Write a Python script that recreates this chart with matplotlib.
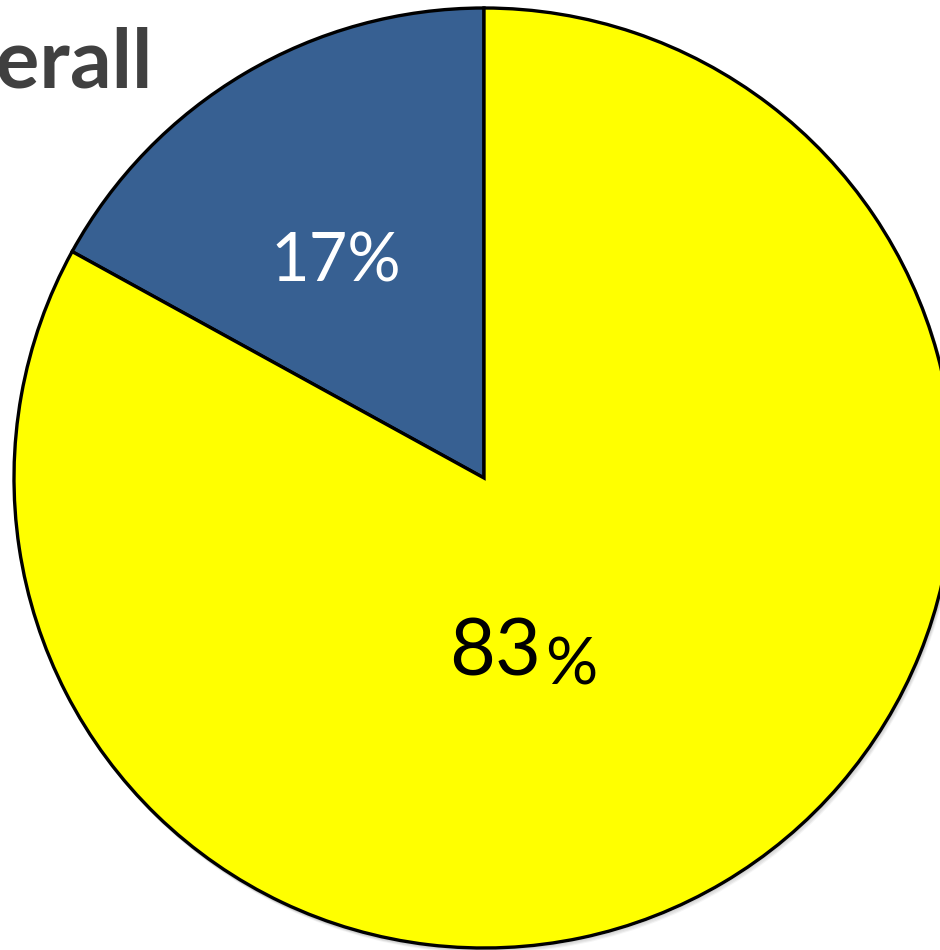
import matplotlib.pyplot as plt
from matplotlib.patches import Circle

labels = ['Yes', 'No']
shares = [17, 83]
colors = ['#376092', '#ffff00']
text_colors = ['white', 'black']
title = 'Overall'

W, H = 940, 950
CX, CY, R = 484, 478, 470  # pie centre / radius in pixels

fig = plt.figure(figsize=(W / 100, H / 100), dpi=100)
fig.patch.set_facecolor('white')

# axes box sized so that a unit-radius pie lands on the pixel circle
ax = fig.add_axes([(CX - R) / W, (H - CY - R) / H, 2 * R / W, 2 * R / H])

# soft drop shadow under the pie
for i, a in enumerate([0.10, 0.08, 0.06, 0.04]):
    off = (i + 1.5) / R
    ax.add_patch(Circle((off * 0.6, -off), 1.0, facecolor='none',
                        edgecolor='#000000', linewidth=1.5, alpha=a,
                        clip_on=False, zorder=0))

wedges, _ = ax.pie(shares, colors=colors, startangle=90, counterclock=True,
                   radius=1.0,
                   wedgeprops=dict(edgecolor='black', linewidth=2.4))
for w in wedges:
    w.set_clip_on(False)
    w.set_zorder(2)

ax.set_xlim(-1, 1)
ax.set_ylim(-1, 1)
ax.set_aspect('equal')
ax.axis('off')

# percentage labels
ax.text(-0.315, 0.419, f'{shares[0]}%', color=text_colors[0], fontsize=48,
        family='Lato', ha='center', va='baseline', zorder=5)
ax.text(0.121, -0.421, f'{shares[1]}', color=text_colors[1], fontsize=57,
        family='Lato', ha='right', va='baseline', zorder=5)
ax.text(0.130, -0.440, '%', color=text_colors[1], fontsize=47,
        family='Lato', ha='left', va='baseline', zorder=5)

# title, partly running off the left edge
fig.text(153 / W, 1 - 88 / H, title, fontsize=59, fontweight='bold',
         family='Lato', color='#404040', ha='right', va='baseline')

fig.savefig('out.png', dpi=100, facecolor='white')
